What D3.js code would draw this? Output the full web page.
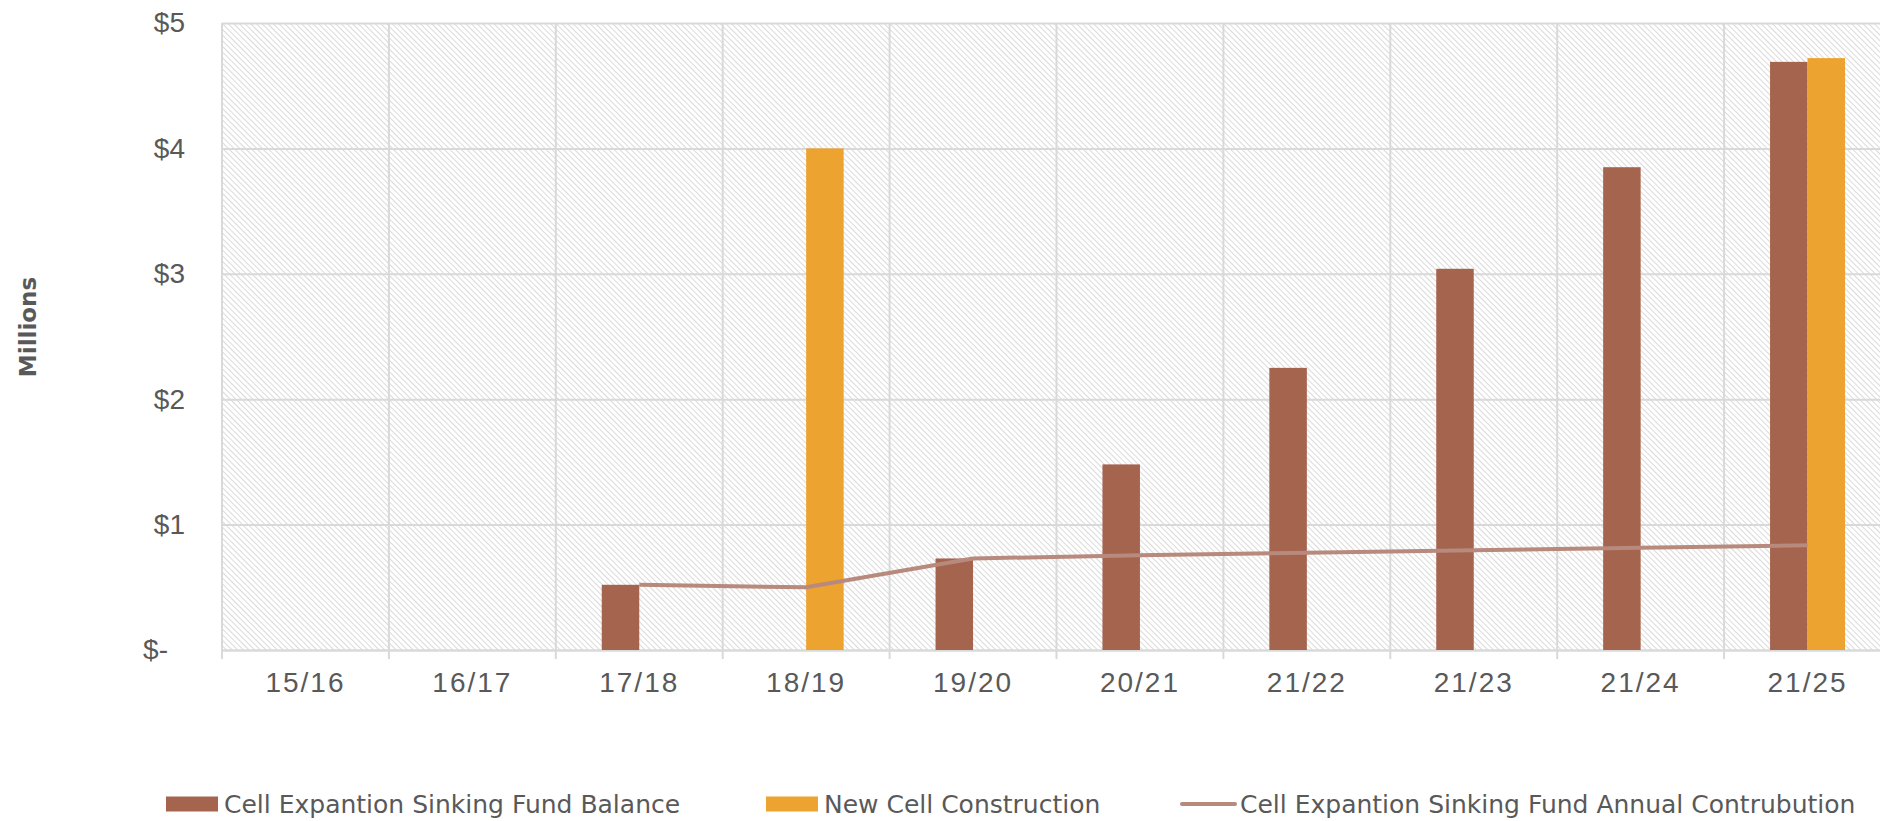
<!DOCTYPE html>
<html>
<head>
<meta charset="utf-8">
<script src="https://cdn.jsdelivr.net/npm/d3@7"></script>
<style>
  html, body { margin: 0; padding: 0; background: #fff; }
  svg { display: block; font-family: 'DejaVu Sans', Lato, sans-serif; }
  .tick text, .label { fill: #595959; }
</style>
</head>
<body>
<svg id="chart" width="1880" height="821"></svg>
<script>
// fiscal years on the x axis
const years = ['15/16', '16/17', '17/18', '18/19', '19/20', '20/21', '21/22', '21/23', '21/24', '21/25']
// values in millions of dollars
const fundBalance = [0, 0, 0.52, 0, 0.73, 1.48, 2.25, 3.04, 3.85, 4.69]
const newConstruction = [0, 0, 0, 4.0, 0, 0, 0, 0, 0, 4.72]
const annualContribution = [null, null, 0.52, 0.50, 0.73, 0.755, 0.775, 0.795, 0.815, 0.835]
const yTicks = [0, 1, 2, 3, 4, 5]
const legendNames = ['Cell Expantion Sinking Fund Balance', 'New Cell Construction', 'Cell Expantion Sinking Fund Annual Contrubution']

const colors = { balance: '#A5644E', construction: '#EDA32F', contribution: '#B78A7D', grid: '#D9D9D9' }

const margin = {top: 23, left: 222, bottom: 171}
const height = 821 - margin.top - margin.bottom
const bandW = 166.9

const svg = d3.select('#chart')

// hatch fill of the plot area
const defs = svg.append('defs')
const pattern = defs.append('pattern')
  .attr('id', 'hatch')
  .attr('patternUnits', 'userSpaceOnUse')
  .attr('width', 4)
  .attr('height', 10)
  .attr('patternTransform', 'rotate(-45)')
pattern.append('line')
  .attr('x1', 0.5).attr('y1', 0)
  .attr('x2', 0.5).attr('y2', 10)
  .attr('stroke', '#DADADA')
  .attr('stroke-width', 1)

// scales
const x = d3.scaleBand()
  .domain(years)
  .range([margin.left, margin.left + bandW * years.length])
  .padding(0)
const y = d3.scaleLinear()
  .domain([0, 5])
  .range([margin.top + height, margin.top])
const barW = x.bandwidth() * 0.2247

svg.append('rect')
  .attr('x', margin.left)
  .attr('y', margin.top)
  .attr('width', x.range()[1] - margin.left)
  .attr('height', height)
  .attr('fill', 'url(#hatch)')

// horizontal gridlines + y labels
const yAxis = svg.append('g')
  .attr('transform', 'translate(' + margin.left + ',0)')
  .call(d3.axisLeft(y)
    .tickValues(yTicks)
    .tickSize(-(x.range()[1] - margin.left))
    .tickPadding(37)
    .tickFormat((d) => d === 0 ? '$-' : '$' + d))
yAxis.select('.domain').remove()
yAxis.selectAll('.tick line')
  .attr('stroke', colors.grid)
  .attr('stroke-width', 2)
yAxis.selectAll('.tick text')
  .attr('font-size', 28)
  .attr('dx', (d) => d === 0 ? -17 : 0)

// vertical gridlines at category boundaries, with tick marks below the axis
const boundaries = years.map((d) => x(d))
svg.append('g')
  .selectAll('line')
  .data(boundaries)
  .join('line')
  .attr('x1', (d) => d)
  .attr('x2', (d) => d)
  .attr('y1', margin.top)
  .attr('y2', y(0) + 9)
  .attr('stroke', colors.grid)
  .attr('stroke-width', 2)

// x labels
const xAxis = svg.append('g')
  .attr('transform', 'translate(0,' + y(0) + ')')
  .call(d3.axisBottom(x).tickSize(0).tickPadding(22))
xAxis.select('.domain')
  .attr('stroke', colors.grid)
  .attr('stroke-width', 2)
xAxis.selectAll('.tick text')
  .attr('font-size', 28)
  .attr('letter-spacing', 2)

// bars
const bars = svg.append('g')
bars.selectAll('.balance')
  .data(years.map((d, i) => ({year: d, v: fundBalance[i]})).filter((d) => d.v > 0))
  .join('rect')
  .attr('class', 'balance')
  .attr('x', (d) => x(d.year) + x.bandwidth() / 2 - barW)
  .attr('y', (d) => y(d.v))
  .attr('width', barW)
  .attr('height', (d) => y(0) - y(d.v))
  .attr('fill', colors.balance)
bars.selectAll('.construction')
  .data(years.map((d, i) => ({year: d, v: newConstruction[i]})).filter((d) => d.v > 0))
  .join('rect')
  .attr('class', 'construction')
  .attr('x', (d) => x(d.year) + x.bandwidth() / 2)
  .attr('y', (d) => y(d.v))
  .attr('width', barW)
  .attr('height', (d) => y(0) - y(d.v))
  .attr('fill', colors.construction)

// contribution line
const line = d3.line()
  .defined((d) => d.v !== null)
  .x((d) => x(d.year) + x.bandwidth() / 2)
  .y((d) => y(d.v))
svg.append('path')
  .datum(years.map((d, i) => ({year: d, v: annualContribution[i]})))
  .attr('d', line)
  .attr('fill', 'none')
  .attr('stroke', colors.contribution)
  .attr('stroke-width', 4)
  .attr('stroke-linejoin', 'round')

// y axis title
svg.append('text')
  .attr('class', 'label')
  .attr('transform', 'translate(36,327) rotate(-90)')
  .attr('text-anchor', 'middle')
  .attr('font-size', 23)
  .attr('font-weight', 'bold')
  .text('Millions')

// legend
const legendY = 804
const legend = svg.append('g').attr('font-size', 25)
const items = [
  {name: legendNames[0], x: 166, type: 'rect', color: colors.balance},
  {name: legendNames[1], x: 766, type: 'rect', color: colors.construction},
  {name: legendNames[2], x: 1182, type: 'line', color: colors.contribution}
]
items.forEach((it) => {
  if (it.type === 'rect') {
    legend.append('rect')
      .attr('x', it.x).attr('y', legendY - 7.5)
      .attr('width', 52).attr('height', 15)
      .attr('fill', it.color)
  } else {
    legend.append('line')
      .attr('x1', it.x).attr('x2', it.x + 53)
      .attr('y1', legendY).attr('y2', legendY)
      .attr('stroke', it.color)
      .attr('stroke-width', 4)
      .attr('stroke-linecap', 'round')
  }
  legend.append('text')
    .attr('class', 'label')
    .attr('x', it.x + 58)
    .attr('y', legendY)
    .attr('dy', '0.35em')
    .text(it.name)
})
</script>
</body>
</html>
